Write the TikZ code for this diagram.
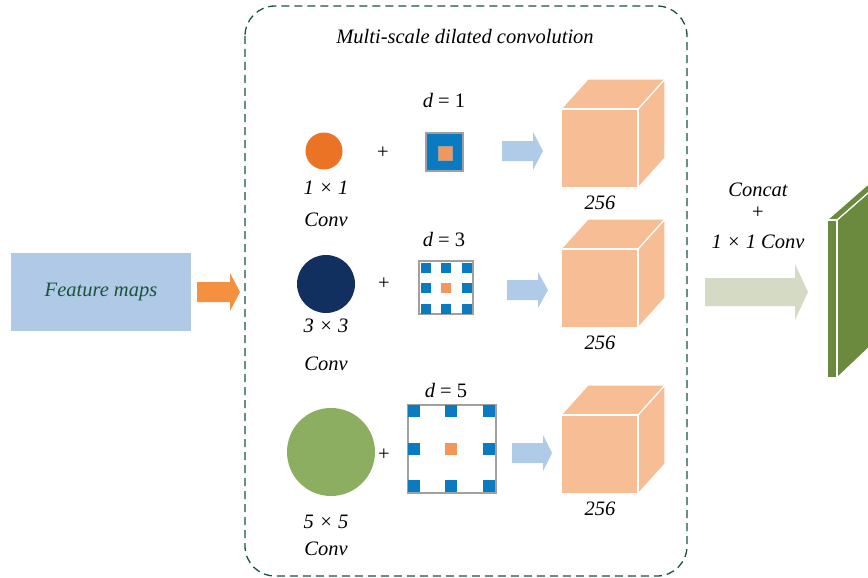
\documentclass[tikz,border=0pt]{standalone}
\usepackage{fontspec}
\setmainfont{Liberation Serif}
\begin{document}
\begin{tikzpicture}[x=1pt,y=-1pt,
  lbl/.style={font=\fontsize{20.5}{24}\selectfont\itshape, inner sep=0pt},
  plain/.style={font=\fontsize{20.5}{24}\selectfont, inner sep=0pt},
  cubeface/.style={fill=cubeC, draw=white, line width=1.2pt, line join=round},
  slabface/.style={fill=slabC, draw=white, line width=1.2pt, line join=round},
  kern/.style={draw=kernB, line width=1.6pt}]
\definecolor{frameG}{HTML}{1A553A}
\definecolor{featC}{HTML}{AFC9E6}
\definecolor{orangeA}{HTML}{F39140}
\definecolor{blueA}{HTML}{AFCBE8}
\definecolor{greyA}{HTML}{D5DAC4}
\definecolor{cubeC}{HTML}{F7BD95}
\definecolor{slabC}{HTML}{6B8A3E}
\definecolor{circO}{HTML}{EA7325}
\definecolor{circN}{HTML}{12305F}
\definecolor{circG}{HTML}{8BAE61}
\definecolor{dotB}{HTML}{0B7BC1}
\definecolor{ctrO}{HTML}{F4965A}
\definecolor{kernB}{HTML}{A0A0A0}

% block arrow: x start, shaft end, tip, centre y, shaft half, head half, colour
\newcommand{\blockarrow}[7]{%
  \fill[#7] (#1,#4-#5) -- (#2,#4-#5) -- (#2,#4-#6) -- (#3,#4) -- (#2,#4+#6)
    -- (#2,#4+#5) -- (#1,#4+#5) -- cycle;}
% cube: front left x, front right x, front top y, front bottom y, depth dx, dy
\newcommand{\featcube}[6]{%
  \path[cubeface] (#2,#3) -- (#2+#5,#3-#6) -- (#2+#5,#4-#6) -- (#2,#4) -- cycle;
  \path[cubeface] (#1,#3) -- (#1+#5,#3-#6) -- (#2+#5,#3-#6) -- (#2,#3) -- cycle;
  \path[cubeface] (#1,#3) rectangle (#2,#4);}

\useasboundingbox (0,0) rectangle (868,578);

% dashed frame around the dilated branches
\draw[frameG, dash pattern=on 8pt off 5pt, line width=1.3pt, rounded corners=30pt]
  (245,6) rectangle (687,576);
\node[lbl] (title) at (465,37) {Multi-scale dilated convolution};

% input feature maps
\node[fill=featC, minimum width=180pt, minimum height=78pt, inner sep=0pt,
  font=\fontsize{20.5}{24}\selectfont\itshape, text=frameG] (feat) at (101,292) {Feature maps};
\blockarrow{197}{230}{240}{292}{10}{19}{orangeA}

% branch 1: 1x1, d = 1
\node[circle, fill=circO, minimum size=37pt, inner sep=0pt] (c1) at (324,151) {};
\node[plain] (p1) at (383,153) {+};
\node[lbl] (k1a) at (326,188) {1 × 1};
\node[lbl] (k1b) at (326,220) {Conv};
\node[plain] (d1) at (444,100) {{\itshape d} = 1};
\fill[dotB] (426,133) rectangle (463,171);
\draw[kern] (426,133) rectangle (463,171);
\fill[ctrO, draw=kernB, line width=0.6pt] (438,146) rectangle (452,160);
\blockarrow{502}{533}{543}{151}{10}{19}{blueA}
\featcube{561}{638}{109}{188}{27}{30}
\node[lbl] (n1) at (600,203) {256};

% branch 2: 3x3, d = 3
\node[circle, fill=circN, minimum size=58pt, inner sep=0pt] (c2) at (326,284) {};
\node[plain] (p2) at (384,284) {+};
\node[lbl] (k2a) at (326,326) {3 × 3};
\node[lbl] (k2b) at (326,364) {Conv};
\node[plain] (d2) at (444,239) {{\itshape d} = 3};
\draw[kern, line width=1.2pt] (419,261) rectangle (473,314);
\foreach \cx in {426,446,467}
  \foreach \cy in {268,288,309}
    \fill[dotB] (\cx-5,\cy-5) rectangle (\cx+5,\cy+5);
\fill[ctrO] (441,283) rectangle (451,293);
\blockarrow{507}{538}{548}{290}{10}{18}{blueA}
\featcube{561}{638}{249}{328}{27}{30}
\node[lbl] (n2) at (600,343) {256};

% branch 3: 5x5, d = 5
\node[circle, fill=circG, minimum size=88pt, inner sep=0pt] (c3) at (331,452) {};
\node[plain] (p3) at (384,455) {+};
\node[lbl] (k3a) at (326,522) {5 × 5};
\node[lbl] (k3b) at (326,549) {Conv};
\node[plain] (d3) at (446,390) {{\itshape d} = 5};
\draw[kern, line width=1.2pt] (408,405) rectangle (496,493);
\foreach \cx in {414,451,489}
  \foreach \cy in {411,449,486}
    \fill[dotB] (\cx-6,\cy-6) rectangle (\cx+6,\cy+6);
\fill[ctrO] (445,443) rectangle (457,455);
\blockarrow{512}{543}{552}{453}{10}{18}{blueA}
\featcube{561}{638}{415}{494}{27}{30}
\node[lbl] (n3) at (600,509) {256};

% concatenation and fused output
\node[lbl] (cc1) at (758,190) {Concat};
\node[plain] (cc2) at (758,213) {+};
\node[lbl] (cc3) at (758,242) {1 × 1 Conv};
\blockarrow{705}{795}{808}{292}{14}{28}{greyA}
\begin{scope}
  \clip (0,0) rectangle (868,578);
  \path[slabface] (837,220) -- (877,185) -- (877,340) -- (837,378) -- cycle;
  \path[slabface] (827,220) -- (867,185) -- (877,185) -- (837,220) -- cycle;
  \path[slabface] (827,220) rectangle (837,378);
\end{scope}
\end{tikzpicture}
\end{document}
